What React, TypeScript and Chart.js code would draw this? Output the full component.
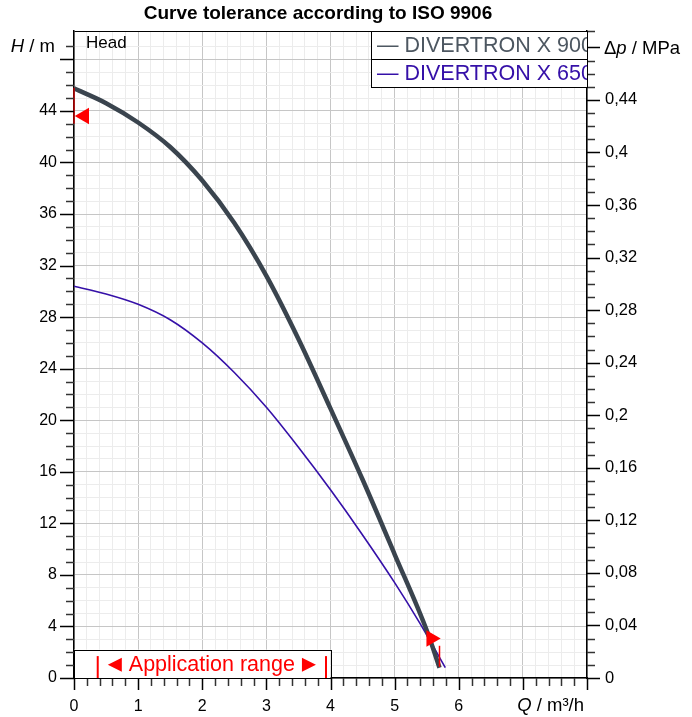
import React, { useEffect, useRef } from 'react';
import { Chart, registerables } from 'chart.js';

Chart.register(...registerables);

const FONT = '"Liberation Sans", Arial, "DejaVu Sans", sans-serif';
const RHO_G = 0.00981; // MPa per metre of head

// ---- data ----
const seriesNames = ['DIVERTRON X 900', 'DIVERTRON X 650'];
const flowQ900 = [0, 0.5, 1, 1.5, 2, 2.5, 3, 3.5, 4, 4.5, 5, 5.5, 5.7];
const head900 = [45.75, 44.6, 43.1, 41.2, 38.6, 35.3, 31.2, 26.3, 20.9, 15.4, 9.6, 3.7, 0.8];
const flowQ650 = [0, 0.5, 1, 1.5, 2, 2.5, 3, 3.5, 4, 4.5, 5, 5.4, 5.79];
const head650 = [30.4, 29.8, 29.0, 27.8, 26.0, 23.7, 21.0, 17.9, 14.6, 11.1, 7.4, 4.2, 0.8];

// tolerance markers (ISO 9906)
const tolMarkerQ = [0.16, 5.57];
const tolMarkerH = [43.6, 3.07];
const tolLineQ = [0, 5.7];
const tolLineHLow = [43.0, 0.87];
const tolLineHHigh = [45.8, 2.5];

// application range
const appRangeQ = [0.37, 3.93];
const appBoxQ = [0, 4];
const appBoxH = 2.2;
const appBarH = 1.7;

// axes
const qMin = 0;
const qMax = 8;
const hMin = 0;
const hMax = 50.2;
const qTickLabels = [0, 1, 2, 3, 4, 5, 6];
const hTickLabels = [0, 4, 8, 12, 16, 20, 24, 28, 32, 36, 40, 44];
const pTickLabelsHundredths = [0, 4, 8, 12, 16, 20, 24, 28, 32, 36, 40, 44];

const COLOR_900 = '#3a444e';
const COLOR_900_TEXT = '#4d5761';
const COLOR_650 = '#3510a8';
const RED = '#ff0000';

const near = (a: number, b: number) => Math.abs(a - b) < 1e-6;
const isMult = (v: number, m: number) => near(v / m, Math.round(v / m));

function drawMixed(ctx: CanvasRenderingContext2D, parts: [string, boolean][], x: number, y: number, align: 'left' | 'right', size: number) {
  ctx.textBaseline = 'middle';
  ctx.textAlign = 'left';
  let total = 0;
  const widths = parts.map(([t, it]) => {
    ctx.font = `${it ? 'italic ' : ''}${size}px ${FONT}`;
    const w = ctx.measureText(t).width;
    total += w;
    return w;
  });
  let cx = align === 'left' ? x : x - total;
  parts.forEach(([t, it], i) => {
    ctx.font = `${it ? 'italic ' : ''}${size}px ${FONT}`;
    ctx.fillText(t, cx, y);
    cx += widths[i];
  });
}

const overlayPlugin = {
  id: 'overlay',
  afterDraw(chart: any) {
    const { ctx, chartArea, scales } = chart;
    const xs = scales.x;
    const ys = scales.y;
    const y2 = scales.y2;
    ctx.save();

    // tick marks
    const tickLine = (x1: number, y1: number, x2: number, y2p: number, major: boolean) => {
      ctx.beginPath();
      ctx.strokeStyle = major ? '#000' : '#333';
      ctx.lineWidth = 1.5;
      ctx.moveTo(x1, y1);
      ctx.lineTo(x2, y2p);
      ctx.stroke();
    };
    ys.ticks.forEach((t: any) => {
      const v = t.value;
      if (v > 50.05) return;
      const p = Math.round(ys.getPixelForValue(v)) + 0.5;
      const major = isMult(v, 4);
      tickLine(chartArea.left - (major ? 14 : 8), p, chartArea.left, p, major);
    });
    y2.ticks.forEach((t: any) => {
      const v = t.value;
      const n = Math.round(v * 100);
      const p = Math.round(y2.getPixelForValue(v)) + 0.5;
      const major = n % 4 === 0;
      tickLine(chartArea.right, p, chartArea.right + (major ? 13 : 8), p, major);
    });
    xs.ticks.forEach((t: any) => {
      const v = t.value;
      const p = Math.round(xs.getPixelForValue(v)) + 0.5;
      const major = isMult(v, 1);
      tickLine(p, chartArea.bottom, p, chartArea.bottom + (major ? 12 : 8), major);
    });

    // application range box
    const bx0 = xs.getPixelForValue(appBoxQ[0]);
    const bx1 = xs.getPixelForValue(appBoxQ[1]);
    const by0 = ys.getPixelForValue(appBoxH);
    const by1 = ys.getPixelForValue(0);
    ctx.fillStyle = '#fff';
    ctx.fillRect(bx0, by0, bx1 - bx0, by1 - by0);
    ctx.strokeStyle = '#000';
    ctx.lineWidth = 1;
    ctx.strokeRect(Math.round(bx0) + 0.5, Math.round(by0) + 0.5, Math.round(bx1 - bx0), Math.round(by1 - by0));
    ctx.strokeStyle = RED;
    ctx.lineWidth = 2;
    appRangeQ.forEach((q) => {
      const px = xs.getPixelForValue(q);
      ctx.beginPath();
      ctx.moveTo(px, ys.getPixelForValue(appBarH));
      ctx.lineTo(px, by1);
      ctx.stroke();
    });
    ctx.fillStyle = RED;
    ctx.font = `21.5px ${FONT}`;
    ctx.textAlign = 'center';
    ctx.textBaseline = 'middle';
    const midQ = (appRangeQ[0] + appRangeQ[1]) / 2;
    const cxText = xs.getPixelForValue(midQ);
    const cyText = (by0 + by1) / 2 + 1;
    const label = 'Application range';
    ctx.fillText(label, cxText, cyText);
    const tw = ctx.measureText(label).width;
    const tri = (tipX: number, baseX: number) => {
      ctx.beginPath();
      ctx.moveTo(tipX, cyText);
      ctx.lineTo(baseX, cyText - 7);
      ctx.lineTo(baseX, cyText + 7);
      ctx.closePath();
      ctx.fill();
    };
    tri(cxText - tw / 2 - 21, cxText - tw / 2 - 7);
    tri(cxText + tw / 2 + 21, cxText + tw / 2 + 7);

    // legend box
    const lw = 216;
    const rowH = 28;
    const lx0 = chartArea.right - lw;
    const ly0 = chartArea.top;
    ctx.fillStyle = '#fff';
    ctx.fillRect(lx0, ly0, lw, rowH * 2);
    ctx.save();
    ctx.beginPath();
    ctx.rect(lx0, ly0, lw, rowH * 2);
    ctx.clip();
    ctx.font = `21.5px ${FONT}`;
    ctx.textAlign = 'left';
    ctx.textBaseline = 'middle';
    ctx.fillStyle = COLOR_900_TEXT;
    ctx.fillText('\u2014 ' + seriesNames[0], lx0 + 6, ly0 + rowH / 2 + 1);
    ctx.fillStyle = COLOR_650;
    ctx.fillText('\u2014 ' + seriesNames[1], lx0 + 6, ly0 + rowH * 1.5 + 1);
    ctx.restore();
    ctx.strokeStyle = '#000';
    ctx.lineWidth = 1;
    ctx.strokeRect(Math.round(lx0) + 0.5, Math.round(ly0) + 0.5, lw, rowH * 2);
    ctx.beginPath();
    ctx.moveTo(lx0, Math.round(ly0 + rowH) + 0.5);
    ctx.lineTo(lx0 + lw, Math.round(ly0 + rowH) + 0.5);
    ctx.stroke();

    // texts
    ctx.fillStyle = '#000';
    ctx.font = `bold 19px ${FONT}`;
    ctx.textAlign = 'center';
    ctx.textBaseline = 'middle';
    ctx.fillText('Curve tolerance according to ISO 9906', 318, 14);

    ctx.font = `17px ${FONT}`;
    ctx.textAlign = 'left';
    ctx.fillText('Head', chartArea.left + 12, chartArea.top + 12);

    drawMixed(ctx, [['H', true], [' / m', false]], 55, 47, 'right', 18.5);
    drawMixed(ctx, [['\u0394', false], ['p', true], [' / MPa', false]], 604, 49, 'left', 18.5);
    drawMixed(ctx, [['Q', true], [' / m\u00B3/h', false]], 584, 706, 'right', 18.5);

    ctx.restore();
  },
};

export default function App() {
  const ref = useRef<HTMLCanvasElement>(null);
  useEffect(() => {
    document.body.style.margin = '0';
    const canvas = ref.current;
    if (!canvas) return;

    const curve900 = flowQ900.map((q, i) => ({ x: q, y: head900[i] }));
    const curve650 = flowQ650.map((q, i) => ({ x: q, y: head650[i] }));

    const gridColorX = (c: any) => {
      const v = c.tick ? c.tick.value : 0;
      return isMult(v, 1) ? '#c6c6c6' : '#ececec';
    };
    const gridColorY = (c: any) => {
      const v = c.tick ? c.tick.value : 0;
      if (v > 50.05) return '#000';
      return isMult(v, 4) ? '#c6c6c6' : '#ececec';
    };

    const chart = new Chart(canvas, {
      type: 'scatter',
      data: {
        datasets: [
          {
            label: 'tolL',
            data: [{ x: tolMarkerQ[0], y: tolMarkerH[0] }],
            pointStyle: 'triangle',
            pointRotation: -90,
            pointRadius: 9.5,
            pointBackgroundColor: RED,
            pointBorderWidth: 0,
            showLine: false,
            clip: false,
          } as any,
          {
            label: 'tolR',
            data: [{ x: tolMarkerQ[1], y: tolMarkerH[1] }],
            pointStyle: 'triangle',
            pointRotation: 90,
            pointRadius: 9.5,
            pointBackgroundColor: RED,
            pointBorderWidth: 0,
            showLine: false,
            clip: false,
          } as any,
          ...tolLineQ.map((q, i) => ({
            label: 'tolLine' + i,
            data: [{ x: q, y: tolLineHLow[i] }, { x: q, y: tolLineHHigh[i] }],
            showLine: true,
            borderColor: i === 0 ? '#c00000' : RED,
            borderWidth: 1.5,
            pointRadius: 0,
            clip: false,
          } as any)),
          {
            label: seriesNames[0],
            data: curve900,
            showLine: true,
            borderColor: COLOR_900,
            borderWidth: 4.5,
            pointRadius: 0,
            cubicInterpolationMode: 'monotone',
            borderCapStyle: 'butt',
          } as any,
          {
            label: seriesNames[1],
            data: curve650,
            showLine: true,
            borderColor: COLOR_650,
            borderWidth: 1.6,
            pointRadius: 0,
            cubicInterpolationMode: 'monotone',
          } as any,
        ],
      },
      options: {
        animation: false,
        responsive: false,
        layout: { padding: { top: 31, left: 0, right: 0, bottom: 0 } },
        plugins: {
          legend: { display: false },
          title: { display: false },
          tooltip: { enabled: false },
        },
        scales: {
          x: {
            type: 'linear',
            min: qMin,
            max: qMax,
            ticks: {
              stepSize: 0.2,
              autoSkip: false,
              maxRotation: 0,
              padding: 19,
              color: '#000',
              font: { size: 16, family: FONT },
              callback: (v: any) => {
                const n = Number(v);
                const hit = qTickLabels.find((t) => near(t, n));
                return hit !== undefined ? String(hit) : '';
              },
            },
            grid: { color: gridColorX, lineWidth: 1, drawTicks: false },
            border: { color: '#000', width: 1.5 },
            afterFit: (s: any) => { s.height = 39; },
          },
          y: {
            type: 'linear',
            position: 'left',
            min: hMin,
            max: hMax,
            ticks: {
              stepSize: 1,
              autoSkip: false,
              padding: 17,
              color: '#000',
              font: { size: 16, family: FONT },
              callback: (v: any) => {
                const n = Number(v);
                const hit = hTickLabels.find((t) => near(t, n));
                return hit !== undefined ? String(hit) : '';
              },
            },
            grid: { color: gridColorY, lineWidth: 1, drawTicks: false },
            border: { color: '#000', width: 1.5 },
            afterFit: (s: any) => { s.width = 74; },
          },
          y2: {
            type: 'linear',
            position: 'right',
            min: hMin * RHO_G,
            max: hMax * RHO_G,
            ticks: {
              stepSize: 0.01,
              autoSkip: false,
              padding: 18,
              color: '#000',
              font: { size: 16.5, family: FONT },
              callback: (v: any) => {
                const n = Math.round(Number(v) * 100);
                if (!pTickLabelsHundredths.includes(n)) return '';
                return String(n / 100).replace('.', ',');
              },
            },
            grid: { display: false, drawTicks: false },
            border: { color: '#000', width: 1.5 },
            afterFit: (s: any) => { s.width = 105; },
          },
        },
      } as any,
      plugins: [overlayPlugin],
    });
    return () => chart.destroy();
  }, []);

  return (
    <div style={{ width: 692, height: 717 }}>
      <canvas ref={ref} width={692} height={717} style={{ display: 'block', width: 692, height: 717 }} />
    </div>
  );
}
